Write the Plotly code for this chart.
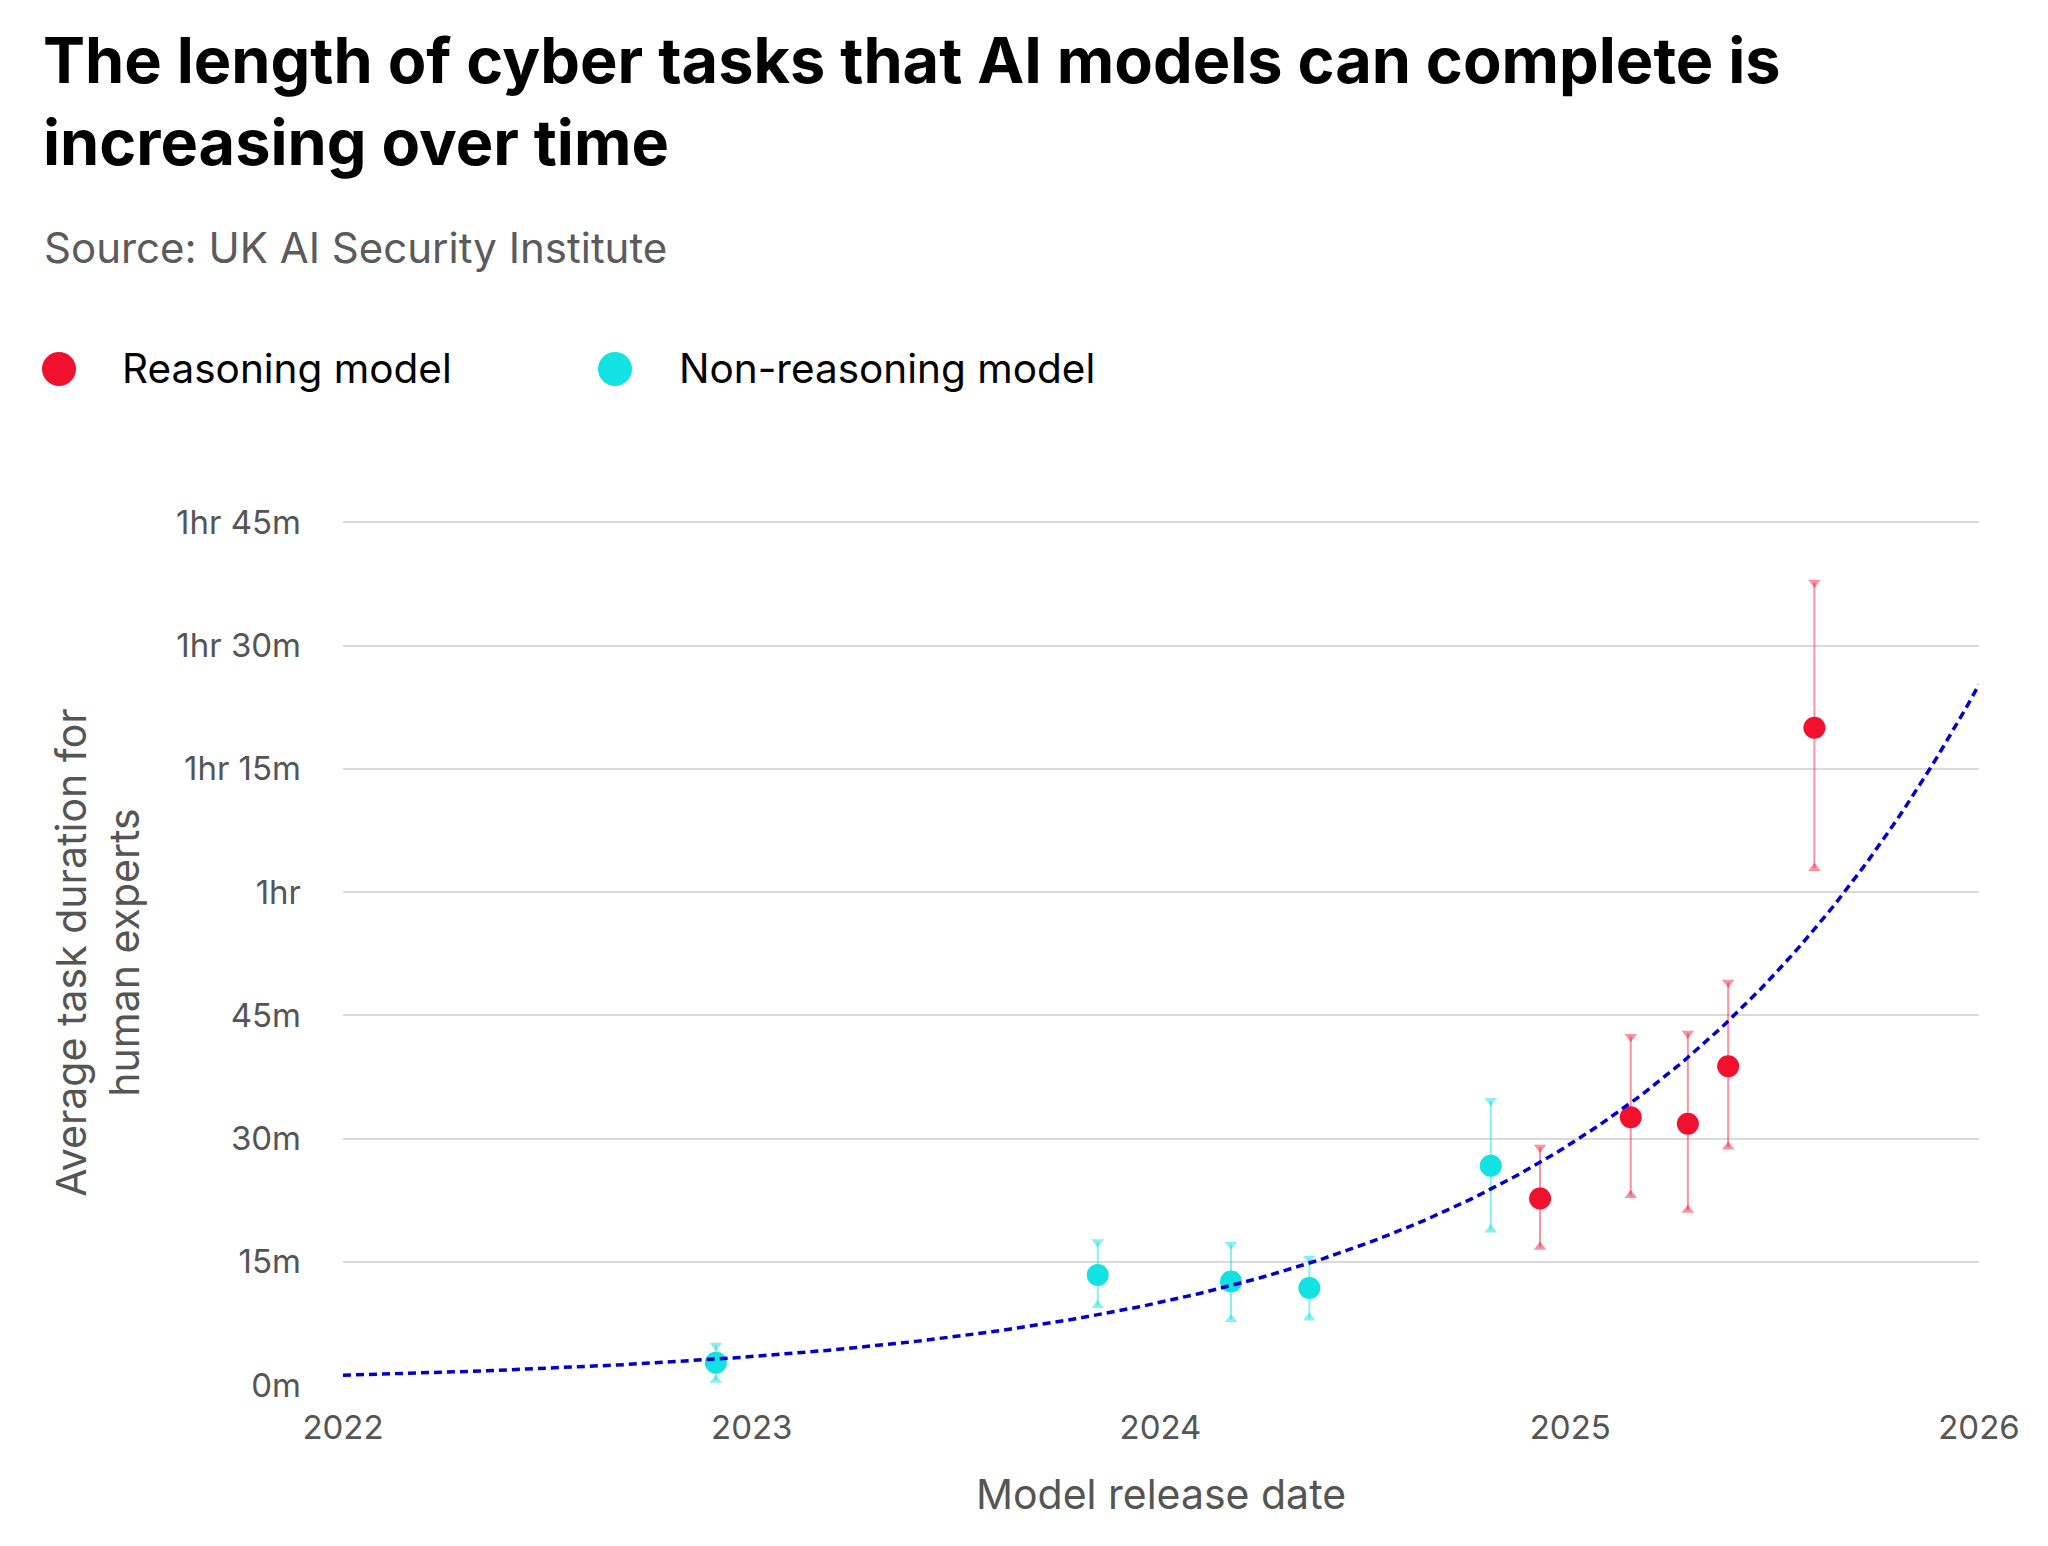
import numpy as np
import pandas as pd
import plotly.graph_objects as go

# ---------------- data ----------------
nonreasoning_dates = ["2022-11-30", "2023-11-06", "2024-03-04", "2024-05-13", "2024-10-22"]
nonreasoning_minutes = [2.7, 13.4, 12.6, 11.8, 26.7]
nonreasoning_low = [0.6, 9.7, 8.0, 8.2, 18.9]
nonreasoning_high = [4.8, 17.4, 17.1, 15.4, 34.6]

reasoning_dates = ["2024-12-05", "2025-02-24", "2025-04-16", "2025-05-22", "2025-08-07"]
reasoning_minutes = [22.7, 32.6, 31.8, 38.8, 80.0]
reasoning_low = [16.8, 23.1, 21.3, 29.0, 62.9]
reasoning_high = [28.9, 42.4, 42.8, 49.0, 97.7]

y_tickvals = [0, 15, 30, 45, 60, 75, 90, 105]
y_ticktext = ["0m", "15m", "30m", "45m", "1hr", "1hr 15m", "1hr 30m", "1hr 45m"]
x_tickvals = ["2022-01-01", "2023-01-01", "2024-01-01", "2025-01-01", "2026-01-01"]
x_ticktext = ["2022", "2023", "2024", "2025", "2026"]

# ---------------- styling ----------------
W, H = 2048, 1546
ML, MR, MT, MB = 335, 77, 512, 169
PW, PH = W - ML - MR, H - MT - MB
FONT = "Inter"
RED = "#F2102F"
RED_LIGHT = "rgba(242,16,47,0.45)"
CYAN = "#12E2E2"
CYAN_LIGHT = "rgba(18,226,226,0.5)"
GREY = "#555555"
TREND = "#0000CC"


def px_x(px):
    return (px - ML) / PW


def px_y(py):
    return (H - MB - py) / PH


# ---------------- exponential trend fitted to all points ----------------
origin = pd.Timestamp("2022-01-01")
all_dates = pd.to_datetime(nonreasoning_dates + reasoning_dates)
all_minutes = np.array(nonreasoning_minutes + reasoning_minutes)
t_years = (all_dates - origin).days / 365.25
slope, intercept = np.polyfit(t_years, np.log(all_minutes), 1)
t_line = np.linspace(0, 4, 240)
trend_dates = origin + pd.to_timedelta(t_line * 365.25, unit="D")
trend_minutes = np.exp(intercept + slope * t_line)

fig = go.Figure()


def add_series(dates, vals, lows, highs, color, light, name):
    vals = np.array(vals)
    lows = np.array(lows)
    highs = np.array(highs)
    fig.add_trace(go.Scatter(
        x=dates, y=highs, mode="markers", showlegend=False, hoverinfo="skip",
        marker=dict(symbol="triangle-down", size=11, color=light, line=dict(width=0)),
    ))
    fig.add_trace(go.Scatter(
        x=dates, y=lows, mode="markers", showlegend=False, hoverinfo="skip",
        marker=dict(symbol="triangle-up", size=11, color=light, line=dict(width=0)),
    ))
    fig.add_trace(go.Scatter(
        x=dates, y=vals, mode="markers", name=name, showlegend=False,
        marker=dict(size=22, color=color, line=dict(width=0)),
        error_y=dict(type="data", symmetric=False, array=highs - vals,
                     arrayminus=vals - lows, color=light, thickness=2, width=0),
    ))


add_series(nonreasoning_dates, nonreasoning_minutes, nonreasoning_low, nonreasoning_high,
           CYAN, CYAN_LIGHT, "Non-reasoning model")
add_series(reasoning_dates, reasoning_minutes, reasoning_low, reasoning_high,
           RED, RED_LIGHT, "Reasoning model")

fig.add_trace(go.Scatter(
    x=trend_dates, y=trend_minutes, mode="lines", showlegend=False, hoverinfo="skip",
    line=dict(color=TREND, width=3.5, dash="8px,5px"),
))

# ---------------- custom legend ----------------
legend_items = [("Reasoning model", RED, 51, 112), ("Non-reasoning model", CYAN, 607, 669)]
legend_y = 361
r = 17
shapes = []
annotations = []
for label, color, cx, tx in legend_items:
    shapes.append(dict(type="circle", xref="paper", yref="paper",
                       x0=px_x(cx - r), x1=px_x(cx + r),
                       y0=px_y(legend_y + r), y1=px_y(legend_y - r),
                       fillcolor=color, line=dict(width=0)))
    annotations.append(dict(text=label, xref="paper", yref="paper",
                            x=px_x(tx), y=px_y(legend_y), xanchor="left", yanchor="middle",
                            showarrow=False, font=dict(family=FONT, size=40.5, color="#000000")))

# title (two lines)
annotations.append(dict(text="<b>The length of cyber tasks that AI models can complete is<br>increasing over time</b>",
                        xref="paper", yref="paper", x=px_x(33), y=px_y(93),
                        xanchor="left", yanchor="middle", align="left", showarrow=False,
                        font=dict(family=FONT, size=63, color="#000000")))
# subtitle
annotations.append(dict(text="Source: UK AI Security Institute", xref="paper", yref="paper",
                        x=px_x(34), y=px_y(240), xanchor="left", yanchor="middle",
                        showarrow=False, font=dict(family=FONT, size=42, color="#5B5B5B")))

fig.update_layout(
    width=W, height=H,
    margin=dict(l=ML, r=MR, t=MT, b=MB),
    paper_bgcolor="white", plot_bgcolor="white",
    showlegend=False,
    shapes=shapes,
    annotations=annotations,
    font=dict(family=FONT, color=GREY),
)

fig.update_xaxes(
    type="date", range=["2022-01-01", "2026-01-01"],
    tickvals=x_tickvals, ticktext=x_ticktext,
    showgrid=False, zeroline=False, showline=False, ticks="",
    tickfont=dict(family=FONT, size=33, color=GREY),
    ticklabelstandoff=20,
    title=dict(text="Model release date", font=dict(family=FONT, size=41, color=GREY), standoff=34),
)
fig.update_yaxes(
    range=[0, 105.3], tickvals=y_tickvals, ticktext=y_ticktext,
    showgrid=True, gridcolor="#DADADA", gridwidth=1.5,
    zeroline=False, showline=False, ticks="",
    tickfont=dict(family=FONT, size=33, color=GREY),
    ticklabelstandoff=41,
    title=dict(text="Average task duration for<br>human experts",
               font=dict(family=FONT, size=41, color=GREY), standoff=23),
)

fig.write_html("out.html")
